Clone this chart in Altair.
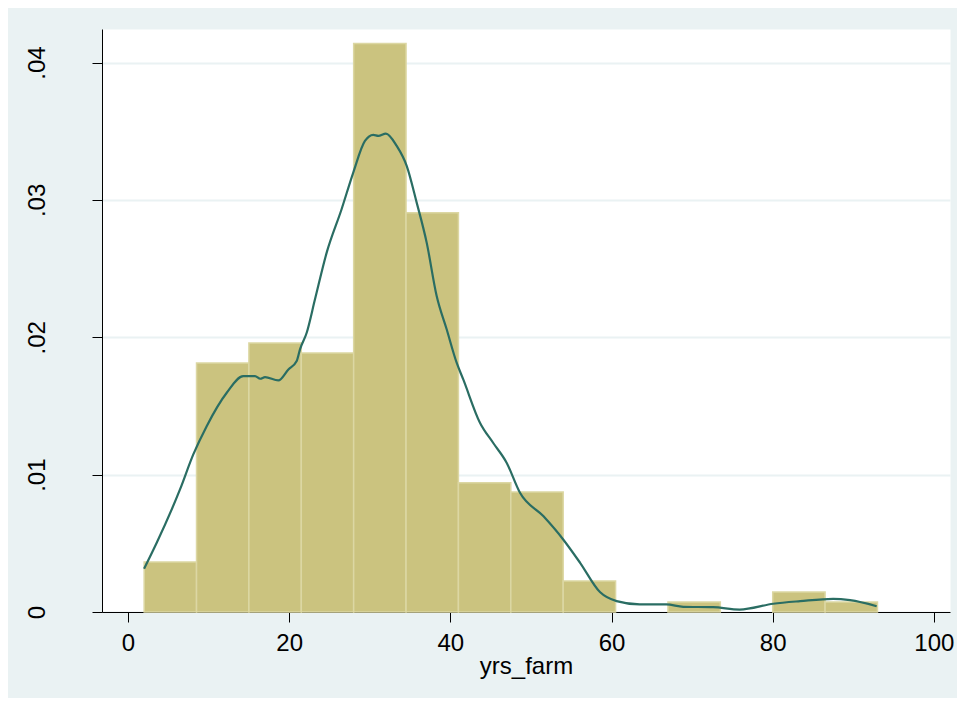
import altair as alt
import pandas as pd

# Histogram bins (yrs_farm) and their densities
bin_start = [2, 8.5, 15, 21.5, 28, 34.5, 41, 47.5, 54, 67, 80, 86.5]
bin_end = [8.5, 15, 21.5, 28, 34.5, 41, 47.5, 54, 60.5, 73.5, 86.5, 93]
bin_density = [0.00364, 0.01813, 0.01959, 0.01886, 0.04138, 0.02906,
               0.00940, 0.00874, 0.00226, 0.00073, 0.00146, 0.00073]

# Kernel density curve
kde_x = [1.99, 3.56, 6.45, 8.1, 9.76, 12.25, 14.3, 15.76, 16.4, 17.0, 18.65,
         19.9, 20.93, 21.34, 22.17, 23.2, 24.65, 26.5, 27.95, 29.4, 30.43,
         31.06, 32.0, 33.34, 34.58, 35.82, 37.06, 38.3, 39.54, 40.78, 41.6,
         43.67, 45.3, 46.98, 48.64, 51.53, 54.0, 56.1, 58.56, 60.63, 63.5,
         66.8, 68.9, 72.6, 75.9, 80.06, 83.4, 87.5, 89.6, 92.9]
kde_y = [0.00315, 0.00504, 0.00892, 0.01147, 0.01353, 0.01596, 0.01717,
         0.01717, 0.01698, 0.01710, 0.01686, 0.01766, 0.01827, 0.01912,
         0.02033, 0.02276, 0.02616, 0.02932, 0.03199, 0.03429, 0.03473,
         0.03466, 0.03483, 0.03393, 0.03247, 0.02980, 0.02689, 0.02300,
         0.02058, 0.01815, 0.01693, 0.01378, 0.01232, 0.01087, 0.00868,
         0.00698, 0.00528, 0.00358, 0.00145, 0.00079, 0.00055, 0.00055,
         0.00038, 0.00035, 0.00018, 0.00060, 0.00079, 0.00096, 0.00086,
         0.00042]

x_ticks = [0, 20, 40, 60, 80, 100]
y_ticks = [0, 0.01, 0.02, 0.03, 0.04]

bars = pd.DataFrame({"x0": bin_start, "x1": bin_end, "d": bin_density})
kde = pd.DataFrame({"kx": kde_x, "ky": kde_y})

FONT = "Liberation Sans"

xscale = alt.Scale(domain=[-3.23, 102], nice=False, zero=False)
yscale = alt.Scale(domain=[0, 0.04244], nice=False)

xaxis = alt.Axis(
    values=x_ticks, grid=False, title="yrs_farm",
    domainColor="black", domainWidth=1, tickColor="black", tickSize=10,
    tickWidth=1, labelFont=FONT, labelFontSize=24, labelColor="black",
    labelPadding=9, labelBaseline="top", labelFlush=False,
    titleFont=FONT, titleFontSize=24, titleFontWeight="normal",
    titleColor="black", titleY=61, titleBaseline="alphabetic",
)
yaxis = alt.Axis(
    values=y_ticks, grid=True, gridColor="#eaf2f3", gridWidth=2,
    title="", domainColor="black", domainWidth=1, tickColor="black",
    tickSize=10, tickWidth=1, labelFont=FONT, labelFontSize=24,
    labelColor="black", labelAngle=270, labelAlign="center",
    labelBaseline="alphabetic", labelPadding=48, labelFlush=False,
    labelExpr="datum.value == 0 ? '0' : replace(format(datum.value, '.2f'), '0.', '.')",
)

hist = alt.Chart(bars).mark_rect(
    fill="#cbc37f", stroke="#dcd7a3", strokeWidth=1.5
).encode(
    x=alt.X("x0:Q", scale=xscale, axis=xaxis),
    x2="x1:Q",
    y=alt.Y("d:Q", scale=yscale, axis=yaxis),
    y2=alt.datum(0),
)

line = alt.Chart(kde).mark_line(
    color="#2a6d63", strokeWidth=2.2, interpolate="monotone"
).encode(
    x=alt.X("kx:Q", scale=xscale, axis=xaxis),
    y=alt.Y("ky:Q", scale=yscale, axis=yaxis),
)

chart = alt.layer(hist, line).properties(
    width=848, height=583,
    autosize=alt.AutoSizeParams(type="none"),
    padding={"left": 94, "top": 21, "right": 7, "bottom": 86},
    background="#eaf2f3",
).configure_view(fill="white", stroke="transparent")

chart.save("out.html", embed_options={"renderer": "svg", "actions": False})
